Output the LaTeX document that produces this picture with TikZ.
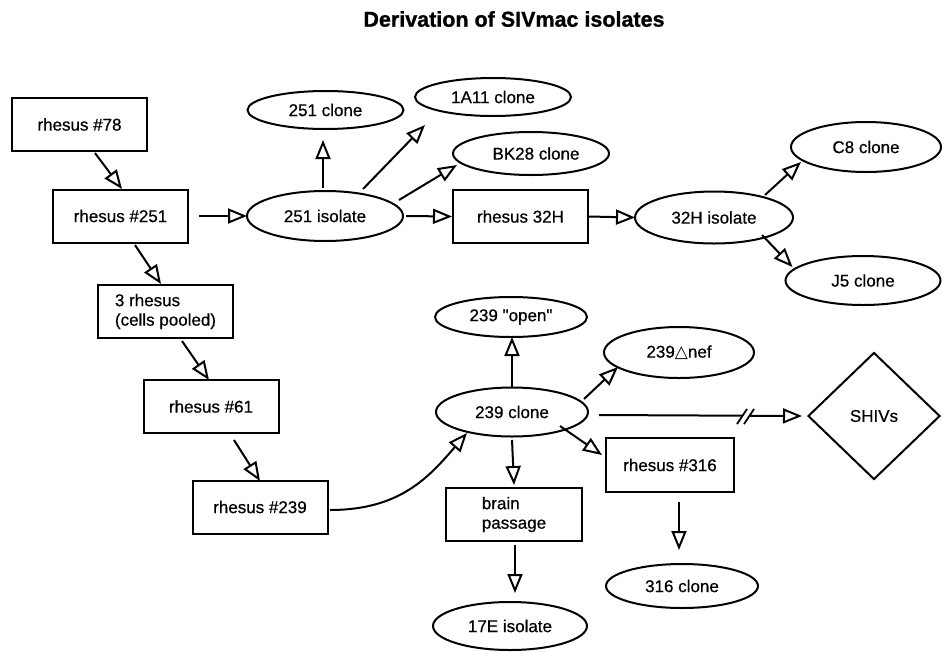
\documentclass[tikz,border=0pt]{standalone}
\usepackage{fontspec}
\setmainfont{Liberation Sans}[FakeBold=0.6]
\newfontfamily\symfont{DejaVu Sans}
\newfontfamily\titlefont{Liberation Sans}[FakeBold=1]
\usetikzlibrary{arrows.meta,calc,shapes.geometric}

\begin{document}
\begin{tikzpicture}[x=1pt, y=-1pt,
    every node/.style={font=\fontsize{17}{19.5}\selectfont},
    box/.style={draw, line width=2pt, minimum width=135pt, minimum height=53pt, inner sep=0pt},
    oval/.style={draw, ellipse, line width=2pt, minimum width=156pt, minimum height=44pt, inner sep=0pt},
    link/.style={line width=2pt, -{Triangle[open, length=19pt, width=15pt]}}]
    \useasboundingbox (0,0) rectangle (942,651);
    \node[font=\titlefont\bfseries\fontsize{21.5}{24}\selectfont] (title) at (514,19) {Derivation of SIVmac isolates};
    % left column of animals
    \node[box] (r78) at (79.5,124.5) {rhesus \#78};
    \node[box] (r251) at (120.5,216) {rhesus \#251};
    \node[box, align=left] (r3) at (165.5,311.5) {3 rhesus\\(cells pooled)};
    \node[box] (r61) at (211,406.5) {rhesus \#61};
    \node[box] (r239) at (260,507) {rhesus \#239};
    % 251 branch
    \node[oval, minimum height=50pt] (i251) at (325,216) {251 isolate};
    \node[oval, minimum height=38pt] (c251) at (325.5,110) {251 clone};
    \node[oval, minimum height=38pt] (c1A11) at (493,97) {1A11 clone};
    \node[oval, minimum height=43pt] (cBK28) at (531,153.5) {\hspace{10pt}BK28 clone};
    \node[box] (r32H) at (520.5,216.5) {rhesus 32H};
    \node[oval, minimum width=158pt, minimum height=52pt] (i32H) at (714,217.5) {32H isolate};
    \node[oval, minimum width=150pt, minimum height=50pt] (cC8) at (866,147) {C8 clone};
    \node[oval, minimum width=155pt, minimum height=49pt] (cJ5) at (863,280.5) {J5 clone};
    % 239 branch
    \node[oval, minimum width=152pt, minimum height=49pt] (c239) at (512,412) {239 clone};
    \node[oval, minimum width=152pt, minimum height=40pt] (o239) at (511,317) {239 \textquotedbl open\textquotedbl};
    \node[oval, minimum width=150pt, minimum height=51pt] (nef) at (679,352.5) {239{\symfont △}nef};
    \node[draw, diamond, line width=2pt, minimum width=132pt, minimum height=127pt, inner sep=0pt] (shiv) at (874,416) {SHIVs};
    \node[box, minimum width=128pt, minimum height=54pt] (r316) at (670,465) {rhesus \#316};
    \node[box, minimum width=136pt, align=left] (brain) at (514,514.5) {brain\\passage};
    \node[oval, minimum width=154pt, minimum height=48pt] (i17E) at (510,626) {17E isolate};
    \node[oval, minimum width=152pt, minimum height=44pt] (c316) at (682,586) {316 clone};

    \draw[link] ($(r78)+(15.5,28.5)$) -- ($(r251)+(1.5,-27)$);
    \draw[link] ($(r251)+(78.5,0)$) -- ($(i251)+(-78,0)$);
    \draw[link] ($(r251)+(14.5,29)$) -- ($(r3)+(-4.5,-27.5)$);
    \draw[link] ($(r3)+(16.5,29.5)$) -- ($(r61)+(-2,-26.5)$);
    \draw[link] ($(r61)+(23,33.5)$) -- ($(r239)+(0,-26)$);
    \draw[link] ($(r239)+(70,3)$) .. controls +(70,0) and +(-38,44) .. ($(c239)+(-45,21)$);

    \draw[link] ($(i251)+(-2,-28)$) -- ($(c251)+(-2.5,30)$);
    \draw[link] ($(i251)+(38,-27)$) -- ($(c1A11)+(-68,28)$);
    \draw[link] ($(i251)+(74,-16)$) -- ($(cBK28)+(-74,11.5)$);
    \draw[link] ($(i251)+(81,0)$) -- ($(r32H)+(-68.5,0)$);
    \draw[link] ($(r32H)+(68,0)$) -- ($(i32H)+(-79,0)$);
    \draw[link] ($(i32H)+(51,-22.5)$) -- ($(cC8)+(-65,15)$);
    \draw[link] ($(i32H)+(48,17.5)$) -- ($(cJ5)+(-70.5,-13.5)$);

    \draw[link] ($(c239)+(0,-25)$) -- ($(o239)+(1,20)$);
    \draw[link] ($(c239)+(72,-13)$) -- ($(nef)+(-61,14.5)$);
    \draw[link] ($(c239)+(87,3)$) -- ($(shiv)+(-72,0)$);
    \draw[link] ($(c239)+(48,14)$) -- ($(r316)+(-68,-10)$);
    \draw[link] ($(c239)+(0,28)$) -- ($(brain)+(0,-29.5)$);
    \draw[link] ($(brain)+(1,30.5)$) -- ($(i17E)+(5,-33)$);
    \draw[link] ($(r316)+(9,37)$) -- ($(c316)+(-3,-36)$);
    % break in the SHIV line
    \coordinate (brk) at ($(c239)+(236,3)$);
    \fill[white] ($(brk)+(-6,-4)$) rectangle ($(brk)+(2,4)$);
    \draw[line width=1.8pt] ($(brk)+(-11,9)$) -- ($(brk)+(-1,-6)$);
    \draw[line width=1.8pt] ($(brk)+(-4,9)$) -- ($(brk)+(6,-6)$);
\end{tikzpicture}
\end{document}
